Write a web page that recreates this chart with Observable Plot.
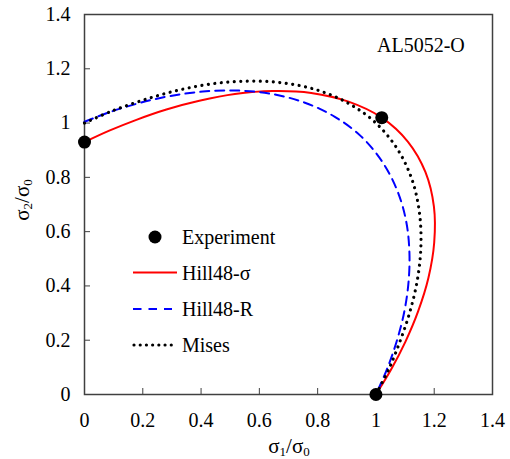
<!DOCTYPE html>
<html>
<head>
<meta charset="utf-8">
<script src="https://cdn.jsdelivr.net/npm/d3@7"></script>
<script src="https://cdn.jsdelivr.net/npm/@observablehq/plot@0.6"></script>
<style>
  body { margin: 0; background: #fff; }
  #chart { width: 510px; height: 434px; }
  #chart svg { display: block; }
  #xtitle {
    font-size: 21px;
    line-height: 25px;
    height: 25px;
    color: #000;
    text-align: center;
    padding-left: 68px;
    box-sizing: border-box;
    width: 510px;
    white-space: nowrap;
  }
  #xtitle sub { font-size: 13px; vertical-align: -3px; line-height: 0; }
</style>
</head>
<body>
<div id="chart" style="font-family:'Liberation Serif'"></div>
<div id="xtitle" style="font-family:'Liberation Serif'">σ<sub>1</sub>/σ<sub>0</sub></div>
<script>
// Normalized yield loci (σ1/σ0, σ2/σ0) in the first quadrant, AL5052-O
const tickValues = [0, 0.2, 0.4, 0.6, 0.8, 1.0, 1.2, 1.4];
const tickLabels = ["0", "0.2", "0.4", "0.6", "0.8", "1", "1.2", "1.4"];

const expS1 = [0, 1.02, 1.00];
const expS2 = [0.93, 1.02, 0];

const hillSigmaS1 = [0, 0.085, 0.178, 0.281, 0.394, 0.516, 0.646, 0.778, 0.906, 1.020, 1.110, 1.170, 1.199, 1.200, 1.180, 1.145, 1.101, 1.052, 1.000];
const hillSigmaS2 = [0.930, 0.972, 1.012, 1.050, 1.082, 1.107, 1.118, 1.111, 1.079, 1.020, 0.931, 0.819, 0.692, 0.560, 0.429, 0.307, 0.194, 0.092, 0];

const hillRS1 = [0, 0.091, 0.189, 0.295, 0.406, 0.522, 0.639, 0.754, 0.859, 0.950, 1.022, 1.073, 1.104, 1.115, 1.111, 1.095, 1.069, 1.037, 1.000];
const hillRS2 = [1.005, 1.042, 1.074, 1.100, 1.116, 1.120, 1.108, 1.076, 1.023, 0.950, 0.857, 0.752, 0.637, 0.520, 0.404, 0.293, 0.188, 0.091, 0];

const misesS1 = [0, 0.091, 0.191, 0.299, 0.415, 0.538, 0.664, 0.788, 0.902, 1.000, 1.075, 1.125, 1.150, 1.154, 1.141, 1.115, 1.081, 1.043, 1.000];
const misesS2 = [1.000, 1.043, 1.081, 1.115, 1.141, 1.154, 1.150, 1.125, 1.075, 1.000, 0.902, 0.788, 0.664, 0.538, 0.415, 0.299, 0.191, 0.091, 0];

const pts = (xs, ys) => xs.map((x, i) => ({x, y: ys[i]}));
const experiment = pts(expS1, expS2);
const hillSigma = pts(hillSigmaS1, hillSigmaS2);
const hillR = pts(hillRS1, hillRS2);
const mises = pts(misesS1, misesS2);

const FONT = "Liberation Serif";
const axisColor = "#404040";
const fmt = d => tickLabels[tickValues.indexOf(d)];

const plot = Plot.plot({
  width: 510,
  height: 434,
  marginLeft: 84,
  marginRight: 18,
  marginTop: 14,
  marginBottom: 40,
  style: {fontFamily: FONT, fontSize: "20px", color: "#000", background: "#fff"},
  x: {domain: [0, 1.4]},
  y: {domain: [0, 1.4]},
  marks: [
    Plot.axisX(tickValues, {tickSize: -6, tickPadding: 24, tickFormat: fmt, label: null, stroke: axisColor, fill: "#000", fontSize: 20}),
    Plot.axisY(tickValues, {tickSize: -6, tickPadding: 20, tickFormat: fmt, label: null, stroke: axisColor, fill: "#000", fontSize: 20}),
    Plot.frame({stroke: axisColor, strokeWidth: 1.5}),
    Plot.line(hillSigma, {x: "x", y: "y", curve: "catmull-rom", stroke: "#ff0000", strokeWidth: 2}),
    Plot.line(hillR, {x: "x", y: "y", curve: "catmull-rom", stroke: "#0000ff", strokeWidth: 2, strokeDasharray: "9,6"}),
    Plot.line(mises, {x: "x", y: "y", curve: "catmull-rom", stroke: "#000", strokeWidth: 3.2, strokeDasharray: "0.01,6.5", strokeLinecap: "round"}),
    Plot.dot(experiment, {x: "x", y: "y", r: 6.5, fill: "#000", stroke: null})
  ]
});

document.getElementById("chart").appendChild(plot);

// Annotation, y-axis title with subscripts, and the legend inside the frame
const svg = d3.select(plot).attr("font-family", FONT);
const g = svg.append("g").attr("fill", "#000").attr("text-anchor", "start").attr("font-family", FONT);

g.append("text").attr("x", 377).attr("y", 52).attr("font-size", 20).text("AL5052-O");

const yt = g.append("text").attr("transform", "translate(29,200) rotate(-90)").attr("font-size", 21).attr("text-anchor", "middle");
yt.append("tspan").text("σ");
yt.append("tspan").attr("dy", 3).attr("font-size", 13).text("2");
yt.append("tspan").attr("dy", -3).text("/σ");
yt.append("tspan").attr("dy", 3).attr("font-size", 13).text("0");

const lg = g.append("g");
lg.append("circle").attr("cx", 155).attr("cy", 237).attr("r", 6.5).attr("fill", "#000");
lg.append("line").attr("x1", 133).attr("x2", 177).attr("y1", 272.5).attr("y2", 272.5)
  .attr("stroke", "#ff0000").attr("stroke-width", 2);
lg.append("line").attr("x1", 133).attr("x2", 172).attr("y1", 309).attr("y2", 309)
  .attr("stroke", "#0000ff").attr("stroke-width", 2).attr("stroke-dasharray", "8.5,7");
lg.append("line").attr("x1", 134).attr("x2", 177).attr("y1", 345).attr("y2", 345)
  .attr("stroke", "#000").attr("stroke-width", 3.2).attr("stroke-dasharray", "0.01,6.2").attr("stroke-linecap", "round");
const names = ["Experiment", "Hill48-σ", "Hill48-R", "Mises"];
const rowsY = [244, 280, 316, 352];
names.forEach((n, i) => lg.append("text").attr("x", 182).attr("y", rowsY[i]).attr("font-size", 20).text(n));
</script>
</body>
</html>
